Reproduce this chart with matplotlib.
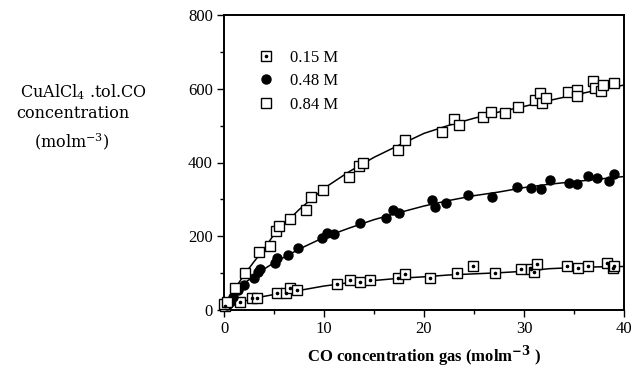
import matplotlib
matplotlib.use("Agg")
import matplotlib.pyplot as plt
from matplotlib.ticker import MultipleLocator

plt.rcParams["font.family"] = ["Liberation Serif", "DejaVu Serif"]
plt.rcParams["mathtext.fontset"] = "dejavuserif"

# measured points, 0.84 M (open squares)
x_084 = [0.0, 0.3, 1.1, 2.1, 3.5, 4.6, 5.2, 5.5, 6.6, 8.2, 8.7, 9.9, 12.5, 13.5, 13.9,
         17.4, 18.1, 21.8, 23.0, 23.5, 25.9, 26.7, 28.1, 29.4, 31.1, 31.6, 31.8, 32.2,
         34.4, 35.3, 35.3, 36.9, 37.1, 37.7, 37.9, 39.0]
y_084 = [16, 23, 59, 99, 156, 174, 214, 228, 246, 271, 307, 325, 362, 391, 398,
         434, 461, 484, 517, 503, 524, 536, 535, 551, 569, 588, 562, 574,
         592, 597, 579, 622, 601, 595, 610, 615]

# 0.48 M (filled circles)
x_048 = [0.3, 0.6, 0.9, 1.4, 2.0, 3.0, 3.4, 3.6, 5.1, 5.3, 6.4, 7.4, 9.8, 10.3, 11.0,
         13.6, 16.2, 16.9, 17.5, 20.8, 21.1, 22.2, 24.4, 26.8, 29.3, 30.7, 31.7, 32.6,
         34.5, 35.3, 36.4, 37.3, 38.5, 39.0]
y_048 = [14, 23, 36, 54, 68, 86, 104, 110, 127, 140, 149, 167, 194, 208, 205,
         235, 249, 271, 262, 298, 280, 291, 312, 307, 334, 330, 327, 353,
         345, 341, 363, 357, 350, 369]

# 0.15 M (dotted squares)
x_015 = [0.1, 1.6, 2.8, 3.3, 5.3, 6.2, 6.6, 7.3, 11.3, 12.6, 13.6, 14.6, 17.4, 18.1,
         20.6, 23.3, 24.9, 27.1, 29.7, 30.7, 31.0, 31.3, 34.3, 35.4, 36.4, 38.3, 38.9, 39.0]
y_015 = [11, 23, 33, 33, 47, 47, 61, 54, 70, 81, 77, 81, 88, 98,
         88, 99, 118, 99, 110, 110, 104, 124, 118, 113, 118, 128, 113, 118]

# fitted curves
curve_x = [0, 1, 2, 3, 4, 5, 7.5, 10, 12.5, 15, 17.5, 20, 22.5, 25, 27.5, 30, 32.5, 35, 37.5, 40]
curve_084 = [0, 54, 95, 131, 165, 205, 272, 330, 375, 414, 447, 479, 501, 520, 537, 552, 568, 583, 597, 610]
curve_048 = [0, 45, 72, 92, 111, 128, 165, 197, 222, 245, 264, 282, 297, 310, 320, 332, 341, 348, 355, 362]
curve_015 = [5, 14, 24, 31, 37, 42, 53, 65, 74, 80, 86, 90, 95, 98, 101, 105, 112, 115, 117, 118]

fig = plt.figure(figsize=(6.34, 3.71), dpi=100)
ax = fig.add_axes([224 / 634, 1 - 310 / 371, 400 / 634, 295 / 371])

for cy in (curve_084, curve_048, curve_015):
    ax.plot(curve_x, cy, color="black", lw=1.1, zorder=2)

sq, = ax.plot(x_015, y_015, ls="none", marker="s", ms=7, mfc="white", mec="black",
              mew=1.0, clip_on=False, zorder=3)
dot, = ax.plot(x_015, y_015, ls="none", marker="o", ms=1.6, color="black",
               clip_on=False, zorder=4)
circ, = ax.plot(x_048, y_048, ls="none", marker="o", ms=6.5, color="black",
                clip_on=False, zorder=3)
osq, = ax.plot(x_084, y_084, ls="none", marker="s", ms=7.5, mfc="white", mec="black",
               mew=1.0, clip_on=False, zorder=3)

ax.legend([(sq, dot), circ, osq], ["0.15 M", "0.48 M", "0.84 M"],
          loc="upper left", bbox_to_anchor=(0.085, 0.882), frameon=False,
          handlelength=1.0, handletextpad=0.9, labelspacing=0.45,
          borderpad=0, borderaxespad=0, fontsize=12)

ax.set_xlim(0, 40)
ax.set_ylim(0, 800)
ax.xaxis.set_major_locator(MultipleLocator(10))
ax.xaxis.set_minor_locator(MultipleLocator(5))
ax.yaxis.set_major_locator(MultipleLocator(200))
ax.yaxis.set_minor_locator(MultipleLocator(100))
ax.tick_params(which="both", direction="out", labelsize=12, width=1.0, pad=3)
ax.tick_params(which="major", length=5)
ax.tick_params(which="minor", length=3)
for s in ax.spines.values():
    s.set_linewidth(1.4)

ax.set_xlabel("CO concentration gas (molm$^{\\mathbf{-3}}$ )", fontsize=12,
              fontweight="bold", labelpad=4)

ylab = dict(ha="center", va="center", fontsize=11.5, family=["DejaVu Serif"])
fig.text(84 / 634, 1 - 92 / 371, "CuAlCl$_4$ .tol.CO", **ylab)
fig.text(73 / 634, 1 - 114 / 371, "concentration", **ylab)
fig.text(72 / 634, 1 - 142 / 371, "(molm$^{-3}$)", **ylab)

fig.savefig("out.png", dpi=100)
